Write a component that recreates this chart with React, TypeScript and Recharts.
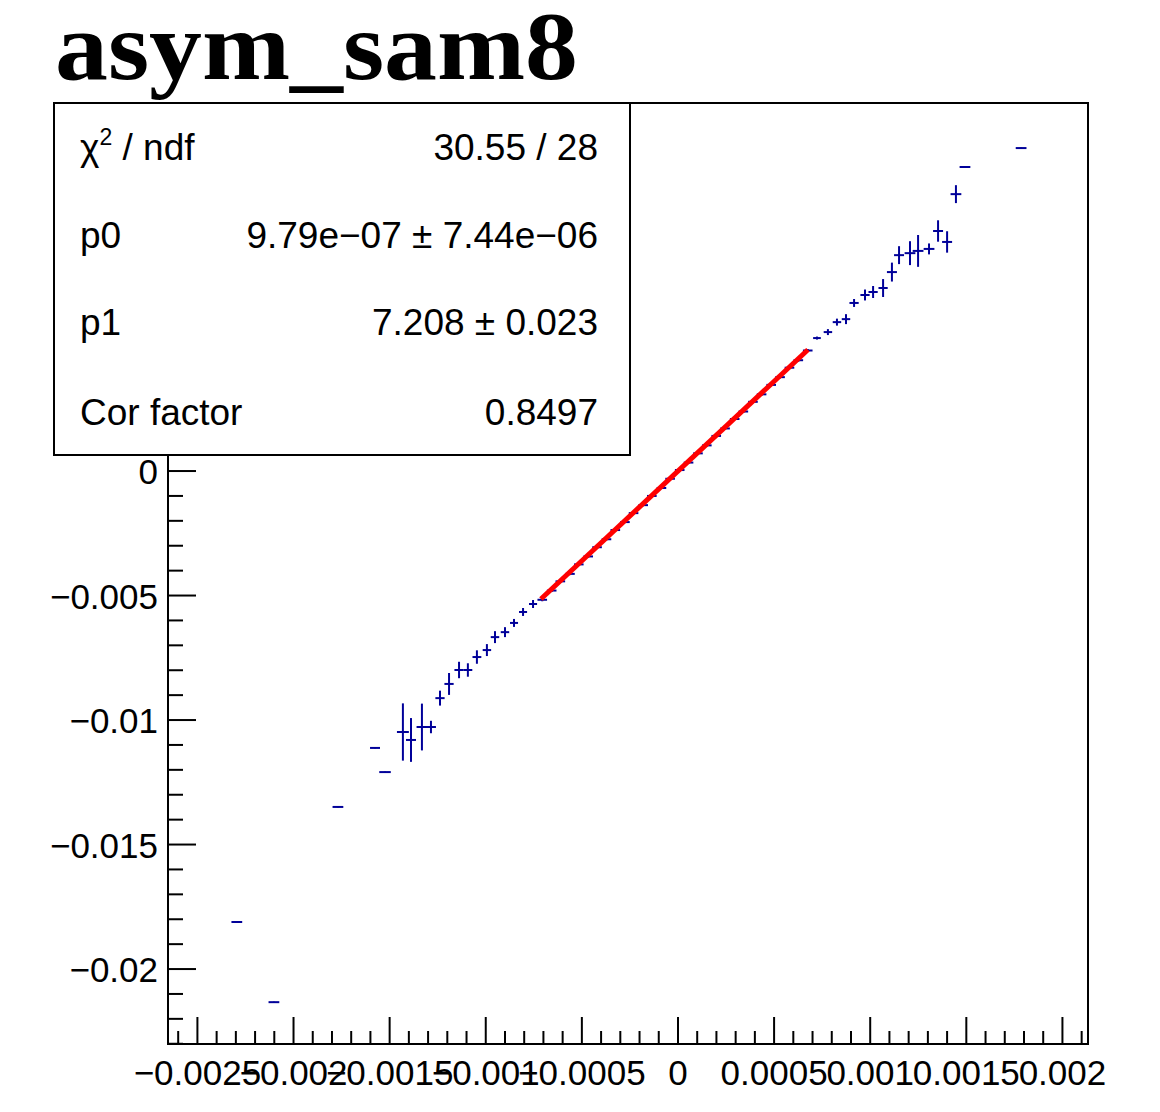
import { ScatterChart, Scatter, XAxis, YAxis, ErrorBar, ReferenceArea } from 'recharts';

// plot frame in chart coordinates (body margin 8px already removed)
const W = 1144;
const H = 1096;
const PLOT_LEFT = 160;
const PLOT_BOTTOM = 1036;
const X_DOMAIN: [number, number] = [-0.002653, 0.002133];
const Y_DOMAIN: [number, number] = [-0.02301, 0.01478];

const X_MAJOR = [-0.0025, -0.002, -0.0015, -0.001, -0.0005, 0, 0.0005, 0.001, 0.0015, 0.002];
const X_LABELS = ['\u22120.0025', '\u22120.002', '\u22120.0015', '\u22120.001', '\u22120.0005', '0', '0.0005', '0.001', '0.0015', '0.002'];
const Y_MAJOR = [-0.02, -0.015, -0.01, -0.005, 0, 0.005, 0.01];
const Y_LABELS = ['\u22120.02', '\u22120.015', '\u22120.01', '\u22120.005', '0', '0.005', '0.01'];

// points
const ptX = [
  -0.002295, -0.002102, -0.001769, -0.001576, -0.001524, -0.001431, -0.001389, -0.001332, -0.001285, -0.001238,
  -0.001191, -0.001139, -0.001093, -0.001046, -0.000994, -0.000952, -0.0009, -0.000853, -0.000806, -0.000754,
  -0.000706, -0.000657, -0.000612, -0.000562, -0.000516, -0.000467, -0.000421, -0.000372, -0.000326, -0.000276,
  -0.000231, -0.000181, -0.000136, -0.000086, -0.000041, 0.000009, 0.000055, 0.000104, 0.00015, 0.000199,
  0.000245, 0.000295, 0.00034, 0.00039, 0.000435, 0.000485, 0.000531, 0.00058, 0.000626, 0.000675,
  0.000723, 0.00078, 0.000827, 0.000874, 0.000916, 0.000973, 0.001015, 0.001067, 0.001113, 0.00115,
  0.001207, 0.001249, 0.001306, 0.001353, 0.0014, 0.001446, 0.001493, 0.001785,
];
const ptY = [
  -0.01811, -0.02133, -0.01349, -0.01112, -0.01209, -0.01048, -0.0108, -0.01028, -0.01028, -0.00912,
  -0.00855, -0.00799, -0.00799, -0.00747, -0.00719, -0.00667, -0.00647, -0.0061, -0.00566, -0.00534,
  -0.00517, -0.0048, -0.00443, -0.00413, -0.00375, -0.00343, -0.00306, -0.00274, -0.00237, -0.00205,
  -0.00169, -0.00137, -0.001, -0.00068, -0.00031, 0.00004, 0.00034, 0.00071, 0.00103, 0.00141,
  0.00171, 0.00209, 0.00239, 0.00278, 0.00308, 0.00346, 0.00377, 0.00415, 0.00445, 0.00484,
  0.00534, 0.00558, 0.00598, 0.0061, 0.00675, 0.00707, 0.00719, 0.00735, 0.00799, 0.00867,
  0.00875, 0.00884, 0.00892, 0.00964, 0.0092, 0.01112, 0.01221, 0.01297,
];
const ptEX = [
  0.000028, 0.000028, 0.000028, 0.000026, 0.00003, 0.000031, 0.000026, 0.000028, 0.000026, 0.000024,
  0.000024, 0.000024, 0.000023, 0.000023, 0.000022, 0.000022, 0.000022, 0.000021, 0.000021, 0.000021,
  0.000025, 0.000025, 0.000025, 0.000025, 0.000025, 0.000025, 0.000025, 0.000025, 0.000025, 0.000025,
  0.000025, 0.000025, 0.000025, 0.000025, 0.000025, 0.000025, 0.000025, 0.000025, 0.000025, 0.000025,
  0.000025, 0.000025, 0.000025, 0.000025, 0.000025, 0.000025, 0.000025, 0.000025, 0.000025, 0.000025,
  0.00002, 0.000022, 0.000022, 0.000022, 0.000024, 0.000024, 0.000024, 0.000024, 0.000026, 0.000026,
  0.000028, 0.000028, 0.000028, 0.000026, 0.000026, 0.000028, 0.000028, 0.000028,
];
const ptEY = [
  0.00002, 0.00002, 0.00002, 0.00002, 0.00002, 0.00115, 0.00088, 0.00094, 0.00025, 0.0003,
  0.00044, 0.00033, 0.00027, 0.00027, 0.00024, 0.00024, 0.0002, 0.00016, 0.00016, 0.00016,
  0.00006, 0.00006, 0.00005, 0.00005, 0.00005, 0.00005, 0.00005, 0.00004, 0.00004, 0.00004,
  0.00004, 0.00004, 0.00004, 0.00004, 0.00004, 0.00004, 0.00004, 0.00004, 0.00004, 0.00004,
  0.00004, 0.00004, 0.00005, 0.00005, 0.00005, 0.00005, 0.00005, 0.00006, 0.00006, 0.00006,
  0.00006, 0.00012, 0.00014, 0.0002, 0.00016, 0.00022, 0.00024, 0.00036, 0.00038, 0.00036,
  0.00048, 0.00064, 0.00022, 0.00043, 0.00043, 0.00036, 0.00002, 0.00002,
];

// fit function p0 + p1*x, drawn over its fit range
const fitX = [-0.000713, 0.000676];
const fitY = [-0.00514, 0.00487];

const points = ptX.map((x, i) => ({ x, y: ptY[i], ex: ptEX[i], ey: ptEY[i] }));
const fitLine = fitX.map((x, i) => ({ x, y: fitY[i] }));

const X_TICKS = Array.from({ length: 48 }, (_, i) => (i - 26) / 10000);
const Y_TICKS = Array.from({ length: 38 }, (_, i) => (i - 23) / 1000);

const BLUE = '#000099';
const SANS = '"Liberation Sans", Arial, Helvetica, sans-serif';

const findMajor = (list: number[], v: number) => list.findIndex(m => Math.abs(m - v) < 1e-9);

const XTick = (props: any) => {
  const { x, payload } = props;
  const idx = findMajor(X_MAJOR, payload.value);
  return (
    <g>
      <line x1={x} x2={x} y1={PLOT_BOTTOM} y2={PLOT_BOTTOM - (idx >= 0 ? 27 : 13)} stroke="#000" strokeWidth={2} />
      {idx >= 0 && (
        <text x={x} y={PLOT_BOTTOM + 41} textAnchor="middle" fontSize={35} fontFamily={SANS} fill="#000">
          {X_LABELS[idx]}
        </text>
      )}
    </g>
  );
};

const YTick = (props: any) => {
  const { y, payload } = props;
  const idx = findMajor(Y_MAJOR, payload.value);
  return (
    <g>
      <line x1={PLOT_LEFT} x2={PLOT_LEFT + (idx >= 0 ? 28 : 15)} y1={y} y2={y} stroke="#000" strokeWidth={2} />
      {idx >= 0 && (
        <text x={PLOT_LEFT - 10} y={y + 13} textAnchor="end" fontSize={35} fontFamily={SANS} fill="#000">
          {Y_LABELS[idx]}
        </text>
      )}
    </g>
  );
};

export default function App() {
  return (
    <div style={{ position: 'relative', width: W, height: H, background: '#fff' }}>
      <ScatterChart width={W} height={H} margin={{ top: 95, right: 64, bottom: 0, left: 0 }}>
        <XAxis
          type="number"
          dataKey="x"
          domain={X_DOMAIN}
          allowDataOverflow
          ticks={X_TICKS}
          interval={0}
          tickLine={false}
          axisLine={{ stroke: '#000', strokeWidth: 2 }}
          tick={(p: any) => <XTick {...p} />}
          height={60}
        />
        <YAxis
          type="number"
          dataKey="y"
          domain={Y_DOMAIN}
          allowDataOverflow
          ticks={Y_TICKS}
          interval={0}
          tickLine={false}
          axisLine={{ stroke: '#000', strokeWidth: 2 }}
          tick={(p: any) => <YTick {...p} />}
          width={160}
        />
        <ReferenceArea x1={X_DOMAIN[0]} x2={X_DOMAIN[1]} y1={Y_DOMAIN[0]} y2={Y_DOMAIN[1]} fill="none" stroke="#000" strokeWidth={2} fillOpacity={0} />
        <Scatter data={points} isAnimationActive={false} shape={() => <g />}>
          <ErrorBar dataKey="ex" direction="x" width={0} stroke={BLUE} strokeWidth={2} />
          <ErrorBar dataKey="ey" direction="y" width={0} stroke={BLUE} strokeWidth={2} />
        </Scatter>
        <Scatter
          data={fitLine}
          isAnimationActive={false}
          line={{ stroke: '#ff0000', strokeWidth: 5 }}
          shape={() => <g />}
        />
      </ScatterChart>

      <svg width={W} height={H} style={{ position: 'absolute', left: 0, top: 0, pointerEvents: 'none' }}>
        <text
          x={47}
          y={71}
          fontSize={97}
          fontWeight="bold"
          fontFamily='"Liberation Serif", "Times New Roman", serif'
          textLength={523}
          lengthAdjust="spacingAndGlyphs"
          fill="#000"
        >
          asym_sam8
        </text>
        <rect x={46} y={95} width={576} height={352} fill="#fff" stroke="#000" strokeWidth={2} />
        <g fontFamily={SANS} fontSize={37} fill="#000">
          <text x={72} y={152}>
            χ<tspan dy={-15} fontSize={23}>2</tspan>
            <tspan dy={15}> / ndf</tspan>
          </text>
          <text x={590} y={152} textAnchor="end">30.55 / 28</text>
          <text x={72} y={240}>p0</text>
          <text x={590} y={240} textAnchor="end">9.79e{'\u2212'}07 ± 7.44e{'\u2212'}06</text>
          <text x={72} y={327}>p1</text>
          <text x={590} y={327} textAnchor="end">7.208 ± 0.023</text>
          <text x={72} y={417}>Cor factor</text>
          <text x={590} y={417} textAnchor="end">0.8497</text>
        </g>
      </svg>
    </div>
  );
}
